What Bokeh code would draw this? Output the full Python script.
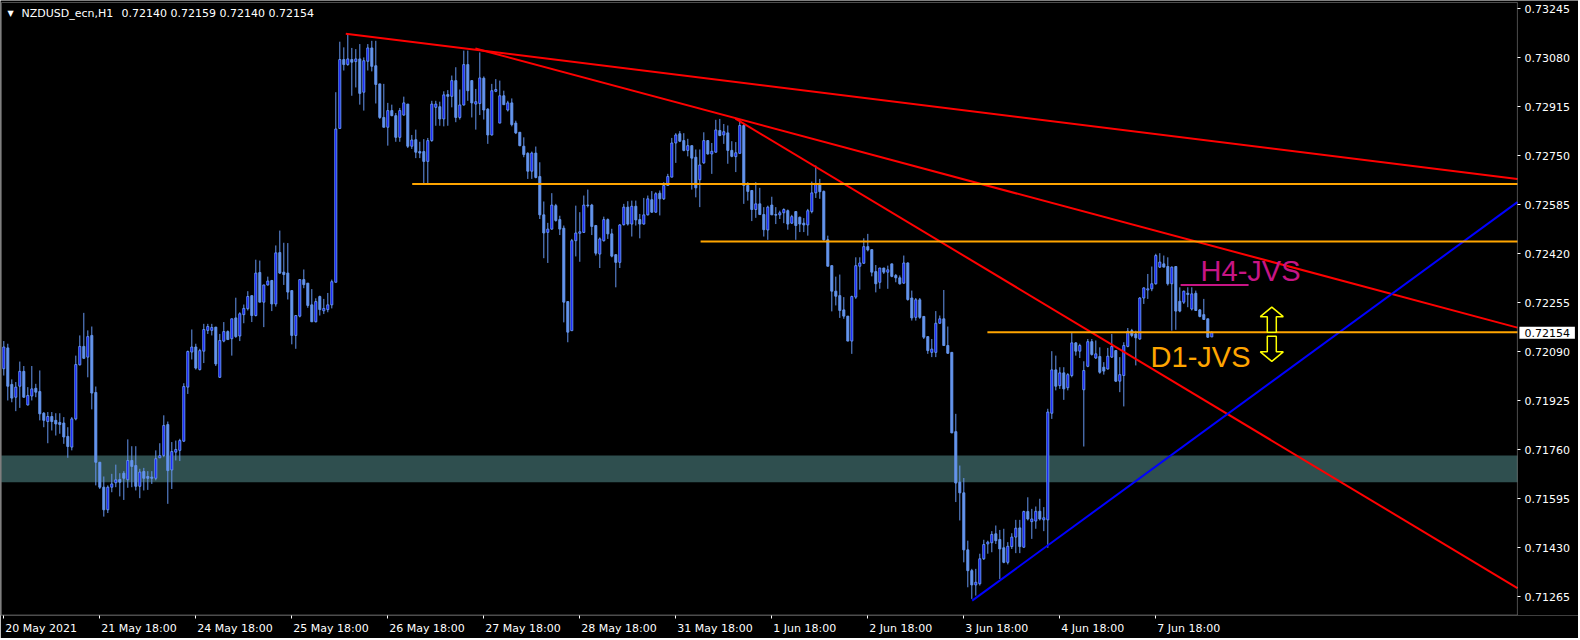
import numpy as np
from bokeh.plotting import figure
from bokeh.models import (Range1d, FixedTicker, PrintfTickFormatter, BoxAnnotation, Label,
                          LinearAxis)
from bokeh.core.properties import value
from bokeh.embed import file_html
from bokeh.resources import INLINE

# ---------------- DATA (NZDUSD H1) ----------------
opens = [
0.72033, 0.72103, 0.71980, 0.71937, 0.71974, 0.72024, 0.71911, 0.71941, 0.71967, 0.71956,
0.71883, 0.71855, 0.71872, 0.71859, 0.71852, 0.71850, 0.71805, 0.71769, 0.71864, 0.72046,
0.72108, 0.72072, 0.72145, 0.71953, 0.71718, 0.71634, 0.71558, 0.71634, 0.71649, 0.71660,
0.71681, 0.71659, 0.71724, 0.71707, 0.71637, 0.71687, 0.71670, 0.71668, 0.71664, 0.71733,
0.71741, 0.71845, 0.71692, 0.71752, 0.71758, 0.71789, 0.71971, 0.72089, 0.72106, 0.72030,
0.72092, 0.72162, 0.72162, 0.72173, 0.72004, 0.72126, 0.72158, 0.72134, 0.72204, 0.72143,
0.72215, 0.72235, 0.72279, 0.72212, 0.72357, 0.72257, 0.72315, 0.72330, 0.72251, 0.72424,
0.72358, 0.72355, 0.72296, 0.72145, 0.72210, 0.72333, 0.72321, 0.72248, 0.72191, 0.72276,
0.72228, 0.72232, 0.72248, 0.72324, 0.72842, 0.73074, 0.73057, 0.73074, 0.73067, 0.73076,
0.72964, 0.73068, 0.73113, 0.73053, 0.72992, 0.72879, 0.72846, 0.72902, 0.72885, 0.72812,
0.72887, 0.72924, 0.72782, 0.72804, 0.72764, 0.72764, 0.72731, 0.72801, 0.72913, 0.72915,
0.72874, 0.72956, 0.72950, 0.73003, 0.72879, 0.72921, 0.73057, 0.73003, 0.72924, 0.72926,
0.73011, 0.72907, 0.72820, 0.72967, 0.72860, 0.72952, 0.72904, 0.72928, 0.72860, 0.72829,
0.72782, 0.72758, 0.72698, 0.72759, 0.72680, 0.72551, 0.72492, 0.72503, 0.72582, 0.72535,
0.72506, 0.72259, 0.72161, 0.72464, 0.72489, 0.72492, 0.72584, 0.72584, 0.72515, 0.72419,
0.72464, 0.72535, 0.72487, 0.72417, 0.72391, 0.72518, 0.72577, 0.72520, 0.72580, 0.72535,
0.72520, 0.72551, 0.72602, 0.72560, 0.72624, 0.72605, 0.72650, 0.72678, 0.72793, 0.72824,
0.72801, 0.72768, 0.72784, 0.72745, 0.72669, 0.72726, 0.72801, 0.72756, 0.72762, 0.72835,
0.72820, 0.72827, 0.72768, 0.72747, 0.72758, 0.72852, 0.72650, 0.72633, 0.72569, 0.72588,
0.72552, 0.72500, 0.72584, 0.72552, 0.72551, 0.72558, 0.72565, 0.72523, 0.72562, 0.72543,
0.72523, 0.72517, 0.72562, 0.72625, 0.72653, 0.72630, 0.72467, 0.72380, 0.72294, 0.72279,
0.72231, 0.72210, 0.72126, 0.72274, 0.72378, 0.72388, 0.72444, 0.72434, 0.72360, 0.72324,
0.72372, 0.72358, 0.72386, 0.72347, 0.72339, 0.72321, 0.72389, 0.72271, 0.72206, 0.72265,
0.72209, 0.72141, 0.72088, 0.72088, 0.72186, 0.72201, 0.72111, 0.72088, 0.71821, 0.71651,
0.71615, 0.71423, 0.71353, 0.71305, 0.71309, 0.71393, 0.71443, 0.71447, 0.71477, 0.71458,
0.71430, 0.71381, 0.71434, 0.71466, 0.71497, 0.71432, 0.71552, 0.71518, 0.71520, 0.71553,
0.71524, 0.71524, 0.71883, 0.72029, 0.71976, 0.72019, 0.71969, 0.72010, 0.72120, 0.72092,
0.71962, 0.72041, 0.72124, 0.72069, 0.72074, 0.72038, 0.72032, 0.72072, 0.72094, 0.71991,
0.72010, 0.72108, 0.72161, 0.72150, 0.72133, 0.72271, 0.72298, 0.72302, 0.72319, 0.72375,
0.72386, 0.72377, 0.72319, 0.72377, 0.72260, 0.72257, 0.72287, 0.72234, 0.72287, 0.72231,
0.72215, 0.72201, 0.72140]

highs = [
0.72126, 0.72117, 0.71997, 0.71988, 0.72057, 0.72042, 0.71971, 0.72042, 0.71982, 0.72027,
0.71887, 0.71887, 0.71887, 0.71883, 0.71883, 0.71870, 0.71836, 0.71870, 0.72077, 0.72145,
0.72221, 0.72162, 0.72175, 0.71973, 0.71718, 0.71670, 0.71640, 0.71679, 0.71710, 0.71681,
0.71688, 0.71795, 0.71772, 0.71772, 0.71696, 0.71699, 0.71688, 0.71688, 0.71758, 0.71782,
0.71876, 0.71855, 0.71786, 0.71791, 0.71797, 0.71984, 0.72094, 0.72165, 0.72117, 0.72100,
0.72184, 0.72184, 0.72184, 0.72173, 0.72150, 0.72190, 0.72162, 0.72201, 0.72272, 0.72223,
0.72249, 0.72294, 0.72279, 0.72400, 0.72397, 0.72315, 0.72343, 0.72332, 0.72448, 0.72498,
0.72457, 0.72456, 0.72296, 0.72212, 0.72333, 0.72367, 0.72321, 0.72301, 0.72270, 0.72279,
0.72268, 0.72288, 0.72333, 0.72964, 0.73134, 0.73115, 0.73160, 0.73113, 0.73109, 0.73126,
0.73081, 0.73126, 0.73137, 0.73137, 0.72992, 0.72992, 0.72928, 0.72922, 0.72894, 0.72911,
0.72949, 0.72924, 0.72820, 0.72838, 0.72797, 0.72806, 0.72810, 0.72935, 0.72935, 0.72932,
0.72967, 0.72971, 0.73020, 0.73048, 0.72973, 0.73104, 0.73104, 0.73003, 0.72975, 0.73098,
0.73017, 0.72910, 0.72992, 0.73008, 0.73003, 0.72969, 0.72935, 0.72943, 0.72868, 0.72829,
0.72812, 0.72762, 0.72764, 0.72781, 0.72728, 0.72596, 0.72524, 0.72624, 0.72588, 0.72548,
0.72515, 0.72259, 0.72470, 0.72582, 0.72560, 0.72616, 0.72636, 0.72588, 0.72517, 0.72475,
0.72545, 0.72539, 0.72504, 0.72417, 0.72520, 0.72588, 0.72597, 0.72599, 0.72599, 0.72554,
0.72608, 0.72616, 0.72631, 0.72627, 0.72633, 0.72661, 0.72689, 0.72810, 0.72826, 0.72833,
0.72826, 0.72807, 0.72784, 0.72771, 0.72771, 0.72829, 0.72803, 0.72793, 0.72871, 0.72874,
0.72857, 0.72852, 0.72799, 0.72796, 0.72872, 0.72857, 0.72661, 0.72633, 0.72661, 0.72642,
0.72577, 0.72582, 0.72612, 0.72577, 0.72565, 0.72573, 0.72569, 0.72551, 0.72563, 0.72545,
0.72540, 0.72571, 0.72663, 0.72717, 0.72672, 0.72633, 0.72481, 0.72380, 0.72343, 0.72350,
0.72274, 0.72210, 0.72279, 0.72408, 0.72408, 0.72472, 0.72487, 0.72434, 0.72382, 0.72372,
0.72372, 0.72380, 0.72386, 0.72352, 0.72347, 0.72414, 0.72391, 0.72296, 0.72271, 0.72271,
0.72209, 0.72141, 0.72133, 0.72227, 0.72212, 0.72298, 0.72175, 0.72088, 0.71881, 0.71707,
0.71665, 0.71454, 0.71359, 0.71359, 0.71410, 0.71457, 0.71454, 0.71486, 0.71505, 0.71490,
0.71494, 0.71449, 0.71479, 0.71524, 0.71524, 0.71555, 0.71600, 0.71561, 0.71569, 0.71595,
0.71567, 0.71898, 0.72092, 0.72077, 0.72038, 0.72038, 0.72018, 0.72153, 0.72122, 0.72117,
0.72058, 0.72133, 0.72133, 0.72128, 0.72105, 0.72055, 0.72103, 0.72150, 0.72096, 0.72072,
0.72122, 0.72170, 0.72167, 0.72161, 0.72274, 0.72307, 0.72352, 0.72377, 0.72420, 0.72422,
0.72414, 0.72408, 0.72377, 0.72377, 0.72307, 0.72296, 0.72307, 0.72307, 0.72296, 0.72234,
0.72268, 0.72201, 0.72159]

lows = [
0.72010, 0.71926, 0.71920, 0.71890, 0.71901, 0.71935, 0.71909, 0.71926, 0.71937, 0.71859,
0.71836, 0.71782, 0.71825, 0.71808, 0.71814, 0.71780, 0.71733, 0.71758, 0.71859, 0.72044,
0.72066, 0.72004, 0.71896, 0.71640, 0.71628, 0.71535, 0.71547, 0.71617, 0.71634, 0.71603,
0.71591, 0.71632, 0.71634, 0.71623, 0.71597, 0.71623, 0.71625, 0.71645, 0.71657, 0.71733,
0.71735, 0.71578, 0.71628, 0.71724, 0.71722, 0.71786, 0.71948, 0.72064, 0.72030, 0.72027,
0.72052, 0.72150, 0.72145, 0.72042, 0.72002, 0.72122, 0.72131, 0.72077, 0.72137, 0.72126,
0.72186, 0.72229, 0.72190, 0.72209, 0.72257, 0.72173, 0.72313, 0.72227, 0.72242, 0.72352,
0.72315, 0.72266, 0.72115, 0.72100, 0.72206, 0.72304, 0.72238, 0.72191, 0.72189, 0.72212,
0.72217, 0.72223, 0.72236, 0.72324, 0.72842, 0.73037, 0.73053, 0.72952, 0.72980, 0.72922,
0.72902, 0.73037, 0.73034, 0.72926, 0.72874, 0.72846, 0.72784, 0.72883, 0.72797, 0.72797,
0.72885, 0.72776, 0.72773, 0.72742, 0.72742, 0.72658, 0.72658, 0.72797, 0.72851, 0.72851,
0.72849, 0.72851, 0.72913, 0.72863, 0.72872, 0.72919, 0.72935, 0.72879, 0.72838, 0.72887,
0.72872, 0.72790, 0.72818, 0.72964, 0.72860, 0.72922, 0.72899, 0.72849, 0.72823, 0.72782,
0.72745, 0.72672, 0.72672, 0.72674, 0.72537, 0.72405, 0.72389, 0.72501, 0.72528, 0.72483,
0.72189, 0.72122, 0.72161, 0.72411, 0.72393, 0.72490, 0.72576, 0.72483, 0.72414, 0.72372,
0.72461, 0.72470, 0.72408, 0.72307, 0.72372, 0.72515, 0.72515, 0.72478, 0.72515, 0.72472,
0.72518, 0.72549, 0.72558, 0.72558, 0.72549, 0.72601, 0.72650, 0.72678, 0.72726, 0.72796,
0.72765, 0.72748, 0.72636, 0.72610, 0.72577, 0.72723, 0.72754, 0.72689, 0.72760, 0.72816,
0.72790, 0.72723, 0.72745, 0.72695, 0.72758, 0.72588, 0.72599, 0.72530, 0.72541, 0.72552,
0.72478, 0.72467, 0.72551, 0.72520, 0.72537, 0.72523, 0.72501, 0.72520, 0.72467, 0.72493,
0.72493, 0.72481, 0.72556, 0.72608, 0.72605, 0.72464, 0.72378, 0.72226, 0.72246, 0.72204,
0.72201, 0.72126, 0.72083, 0.72268, 0.72299, 0.72386, 0.72428, 0.72344, 0.72290, 0.72302,
0.72352, 0.72302, 0.72341, 0.72324, 0.72316, 0.72319, 0.72262, 0.72195, 0.72195, 0.72201,
0.72133, 0.72083, 0.72072, 0.72072, 0.72184, 0.72111, 0.72083, 0.71816, 0.71584, 0.71522,
0.71381, 0.71297, 0.71258, 0.71269, 0.71303, 0.71389, 0.71410, 0.71415, 0.71443, 0.71325,
0.71378, 0.71374, 0.71426, 0.71412, 0.71412, 0.71430, 0.71522, 0.71460, 0.71494, 0.71522,
0.71486, 0.71430, 0.71864, 0.71960, 0.71965, 0.71928, 0.71960, 0.72004, 0.72077, 0.72069,
0.71771, 0.72038, 0.72077, 0.72066, 0.72016, 0.72013, 0.72030, 0.72069, 0.71988, 0.71954,
0.71906, 0.72105, 0.72139, 0.72044, 0.72130, 0.72251, 0.72268, 0.72294, 0.72316, 0.72372,
0.72375, 0.72313, 0.72161, 0.72164, 0.72223, 0.72251, 0.72240, 0.72229, 0.72229, 0.72206,
0.72197, 0.72137, 0.72140]

closes = [
0.72106, 0.71974, 0.71934, 0.71971, 0.72024, 0.71937, 0.71943, 0.71965, 0.71954, 0.71881,
0.71859, 0.71872, 0.71855, 0.71847, 0.71845, 0.71803, 0.71771, 0.71864, 0.72047, 0.72108,
0.72068, 0.72141, 0.71951, 0.71718, 0.71634, 0.71558, 0.71634, 0.71645, 0.71659, 0.71651,
0.71664, 0.71724, 0.71704, 0.71637, 0.71685, 0.71664, 0.71664, 0.71664, 0.71730, 0.71740,
0.71842, 0.71690, 0.71754, 0.71761, 0.71791, 0.71973, 0.72091, 0.72106, 0.72035, 0.72094,
0.72165, 0.72175, 0.72172, 0.72049, 0.72128, 0.72158, 0.72131, 0.72201, 0.72141, 0.72218,
0.72236, 0.72276, 0.72212, 0.72355, 0.72257, 0.72315, 0.72328, 0.72251, 0.72423, 0.72355,
0.72350, 0.72291, 0.72145, 0.72212, 0.72333, 0.72316, 0.72246, 0.72191, 0.72259, 0.72232,
0.72236, 0.72248, 0.72326, 0.72840, 0.73074, 0.73057, 0.73076, 0.73065, 0.73076, 0.72960,
0.73070, 0.73113, 0.73051, 0.72990, 0.72879, 0.72846, 0.72902, 0.72885, 0.72812, 0.72902,
0.72928, 0.72782, 0.72803, 0.72762, 0.72759, 0.72731, 0.72801, 0.72924, 0.72924, 0.72874,
0.72955, 0.72950, 0.73003, 0.72879, 0.72921, 0.73057, 0.72969, 0.72928, 0.72932, 0.73012,
0.72904, 0.72820, 0.72969, 0.72973, 0.72952, 0.72922, 0.72928, 0.72855, 0.72827, 0.72784,
0.72754, 0.72698, 0.72759, 0.72677, 0.72551, 0.72490, 0.72503, 0.72584, 0.72532, 0.72503,
0.72257, 0.72156, 0.72464, 0.72490, 0.72494, 0.72584, 0.72582, 0.72512, 0.72422, 0.72470,
0.72535, 0.72487, 0.72412, 0.72391, 0.72517, 0.72577, 0.72520, 0.72580, 0.72534, 0.72520,
0.72551, 0.72605, 0.72560, 0.72622, 0.72605, 0.72650, 0.72680, 0.72793, 0.72820, 0.72799,
0.72768, 0.72784, 0.72742, 0.72642, 0.72719, 0.72801, 0.72756, 0.72765, 0.72837, 0.72818,
0.72831, 0.72768, 0.72748, 0.72760, 0.72852, 0.72650, 0.72630, 0.72569, 0.72588, 0.72552,
0.72501, 0.72577, 0.72551, 0.72550, 0.72558, 0.72569, 0.72520, 0.72545, 0.72515, 0.72520,
0.72517, 0.72565, 0.72625, 0.72653, 0.72629, 0.72467, 0.72378, 0.72294, 0.72277, 0.72229,
0.72210, 0.72126, 0.72276, 0.72380, 0.72389, 0.72444, 0.72433, 0.72358, 0.72319, 0.72372,
0.72358, 0.72366, 0.72344, 0.72339, 0.72319, 0.72389, 0.72266, 0.72204, 0.72265, 0.72206,
0.72139, 0.72094, 0.72099, 0.72186, 0.72201, 0.72111, 0.72085, 0.71817, 0.71648, 0.71615,
0.71423, 0.71353, 0.71305, 0.71314, 0.71393, 0.71441, 0.71449, 0.71475, 0.71454, 0.71426,
0.71381, 0.71435, 0.71466, 0.71496, 0.71434, 0.71552, 0.71527, 0.71527, 0.71553, 0.71527,
0.71531, 0.71887, 0.72029, 0.71974, 0.72019, 0.71965, 0.72013, 0.72120, 0.72092, 0.72111,
0.72027, 0.72124, 0.72081, 0.72083, 0.72021, 0.72025, 0.72075, 0.72108, 0.71991, 0.72013,
0.72111, 0.72159, 0.72145, 0.72137, 0.72271, 0.72305, 0.72302, 0.72319, 0.72414, 0.72392,
0.72375, 0.72319, 0.72375, 0.72227, 0.72227, 0.72294, 0.72283, 0.72285, 0.72229, 0.72209,
0.72199, 0.72139, 0.72154]

time_tick_bars = [0, 24, 48, 72, 96, 120, 144, 168, 192, 216, 240, 264, 288]
time_tick_labels = ["20 May 2021", "21 May 18:00", "24 May 18:00", "25 May 18:00", "26 May 18:00",
                    "27 May 18:00", "28 May 18:00", "31 May 18:00", "1 Jun 18:00", "2 Jun 18:00",
                    "3 Jun 18:00", "4 Jun 18:00", "7 Jun 18:00"]
price_ticks = [0.71265, 0.71430, 0.71595, 0.71760, 0.71925, 0.72090, 0.72255,
               0.72420, 0.72585, 0.72750, 0.72915, 0.73080, 0.73245]

symbol_text = "NZDUSD_ecn,H1"
last_bar_text = "0.72140 0.72159 0.72140 0.72154"
last_price = 0.72154

# support zone (price band)
zone_low, zone_high = 0.71651, 0.71741
# trend lines: (bar1, price1, bar2, price2) - rays extending to the right edge
red_rays = [(85.5, 0.73161, 378.2, 0.72672),
            (117.9, 0.73111, 378.2, 0.72172),
            (182.9, 0.72875, 378.2, 0.71296)]
blue_rays = [(242.1, 0.71252, 378.2, 0.72592)]
# horizontal levels: (start bar, price)
orange_levels = [(102.1, 0.72655), (174.2, 0.72461), (245.9, 0.72156)]
h4_segment = (294.2, 311.2, 0.72315)
h4_text_anchor = (299.2, 0.72363)
d1_text_anchor = (286.7, 0.72071)
arrow_up_anchor = (317.0, 0.72198)
arrow_down_anchor = (317.0, 0.72100)

# ---------------- GEOMETRY ----------------
X_LEFT, X_RIGHT = -0.575, 378.4        # chart window in bars
Y_BOT, Y_TOP = 0.71202, 0.73266        # chart window in price
PX_PER_BAR = 4.0
CHART_H = 613
PX_PER_PRICE = CHART_H / (Y_TOP - Y_BOT)
FRAME_W, FRAME_H = 1578, 615
XR0 = X_LEFT - 1.0 / PX_PER_BAR
XR1 = XR0 + FRAME_W / PX_PER_BAR
YR1 = Y_TOP + 2.0 / PX_PER_PRICE
YR0 = Y_BOT

CORN = "#6495ED"
WHITE = "#FFFFFF"
FONT = "DejaVu Sans"

n = min(len(opens), len(highs), len(lows), len(closes))
o = np.array(opens[:n]); c = np.array(closes[:n])
h = np.maximum(np.array(highs[:n]), np.maximum(o, c))
l = np.minimum(np.array(lows[:n]), np.minimum(o, c))
idx = np.arange(n)
bull = c >= o

p = figure(frame_width=FRAME_W, frame_height=FRAME_H,
           x_range=Range1d(XR0, XR1), y_range=Range1d(YR0, YR1),
           output_backend="svg", toolbar_location=None, y_axis_location="right",
           background_fill_color="black", border_fill_color="black",
           min_border_left=0, min_border_top=0, min_border_right=0, min_border_bottom=23)
p.grid.visible = False
p.outline_line_color = None

# ---- price axis, drawn at the chart's right border
ya = p.yaxis[0]
ya.fixed_location = X_RIGHT
ya.ticker = FixedTicker(ticks=price_ticks)
ya.formatter = PrintfTickFormatter(format="%.5f")
ya.axis_line_color = None
ya.major_tick_line_color = WHITE
ya.minor_tick_line_color = None
ya.major_tick_in = 0
ya.major_tick_out = 3
ya.major_label_standoff = 4
ya.major_label_text_color = WHITE
ya.major_label_text_font = FONT
ya.major_label_text_font_size = "11px"

# ---- time axis: tick marks at the bars
xa = p.xaxis[0]
xa.ticker = FixedTicker(ticks=time_tick_bars)
xa.major_label_overrides = {b: "" for b in time_tick_bars}
xa.major_label_text_font_size = "0px"
xa.major_label_standoff = 0
xa.axis_line_color = None
xa.major_tick_line_color = WHITE
xa.minor_tick_line_color = None
xa.major_tick_in = 0
xa.major_tick_out = 3

# ---- time labels, left-aligned at their tick (second axis holding the texts)
CW = {" ": 0.318, ":": 0.337, "M": 0.863, "a": 0.613, "y": 0.592, "J": 0.295, "u": 0.634, "n": 0.634}
def label_center(bar, text, size=11.0):
    w = sum(CW.get(ch, 0.636) for ch in text) * size
    return round(bar + (w / 2.0 + 1.5) / PX_PER_BAR, 3)

centers = [label_center(b, t) for b, t in zip(time_tick_bars, time_tick_labels)]
xa2 = LinearAxis(ticker=FixedTicker(ticks=centers),
                 major_label_overrides={cx: t for cx, t in zip(centers, time_tick_labels)},
                 axis_line_color=None, major_tick_line_color=None, minor_tick_line_color=None,
                 major_tick_in=0, major_tick_out=0, major_label_standoff=3,
                 major_label_text_color=WHITE, major_label_text_font=FONT,
                 major_label_text_font_size="11px")
p.add_layout(xa2, "below")

# support zone
p.add_layout(BoxAnnotation(left=X_LEFT, right=X_RIGHT, bottom=zone_low, top=zone_high,
                           fill_color="#2F4F4F", fill_alpha=1.0, line_color=None, level="underlay"))

# candles
p.segment(x0=idx, y0=l, x1=idx, y1=h, line_color=CORN, line_width=1)
p.vbar(x=idx[~bull], width=0.5, top=o[~bull], bottom=c[~bull],
       fill_color=CORN, line_color=CORN, line_width=1)
p.vbar(x=idx[bull], width=0.5, top=c[bull], bottom=o[bull],
       fill_color="#0000FF", line_color=CORN, line_width=1)

# trend rays, cut at the chart's right border
def ray_segments(rays, x_end=X_RIGHT):
    xs0, ys0, xs1, ys1 = [], [], [], []
    for b1, p1, b2, p2 in rays:
        slope = (p2 - p1) / (b2 - b1)
        xs0.append(b1); ys0.append(p1)
        xs1.append(x_end); ys1.append(p1 + slope * (x_end - b1))
    return xs0, ys0, xs1, ys1

for rays, col in ((red_rays, "#FF0000"), (blue_rays, "#0000FF")):
    a, b, cc, d = ray_segments(rays)
    p.segment(x0=a, y0=b, x1=cc, y1=d, line_color=col, line_width=2)

# horizontal levels
p.segment(x0=[s for s, _ in orange_levels], y0=[v for _, v in orange_levels],
          x1=[X_RIGHT] * len(orange_levels), y1=[v for _, v in orange_levels],
          line_color="#FFA500", line_width=2)
p.segment(x0=[h4_segment[0]], y0=[h4_segment[2]], x1=[h4_segment[1]], y1=[h4_segment[2]],
          line_color="#C71585", line_width=2)

# annotation texts
p.text(x=[h4_text_anchor[0]], y=[h4_text_anchor[1]], text=["H4-JVS"],
       text_font=value("Liberation Sans"), text_font_size="29px", text_color="#C71585",
       text_align="left", text_baseline="middle")
p.text(x=[d1_text_anchor[0]], y=[d1_text_anchor[1]], text=["D1-JVS"],
       text_font=value("Liberation Sans"), text_font_size="29px", text_color="#FFA500",
       text_align="left", text_baseline="middle")

# hollow up / down arrows (shape in pixels, placed at their anchors)
UP_SHAPE = [(0, 12.5), (11.5, 3), (4.5, 3), (4.5, -12.5), (-4.5, -12.5), (-4.5, 3), (-11.5, 3)]
def arrow_patch(anchor, flip):
    ax_, ay_ = anchor
    xs = [ax_ + dx / PX_PER_BAR for dx, dy in UP_SHAPE]
    ys = [ay_ + (-dy if flip else dy) / PX_PER_PRICE for dx, dy in UP_SHAPE]
    return xs, ys
ux, uy = arrow_patch(arrow_up_anchor, False)
dx_, dy_ = arrow_patch(arrow_down_anchor, True)
p.patches(xs=[ux, dx_], ys=[uy, dy_], fill_color="black", line_color="#FFFF00", line_width=1.5)

# chart border
p.add_layout(BoxAnnotation(left=X_LEFT, right=X_RIGHT, bottom=Y_BOT + 0.5 / PX_PER_PRICE,
                           top=Y_TOP, fill_alpha=0, line_color=WHITE, line_width=1))

# header
p.add_layout(Label(x=X_LEFT, y=Y_TOP, x_offset=6, y_offset=-11, text="\u25bc", text_color=WHITE,
                   text_font=FONT, text_font_size="8px", text_baseline="middle"))
p.add_layout(Label(x=X_LEFT, y=Y_TOP, x_offset=20, y_offset=-11, text=symbol_text, text_color=WHITE,
                   text_font=FONT, text_font_size="11px", text_baseline="middle"))
p.add_layout(Label(x=X_LEFT, y=Y_TOP, x_offset=120, y_offset=-11, text=last_bar_text,
                   text_color=WHITE, text_font=FONT, text_font_size="11px", text_baseline="middle"))

# current price tag on the price scale
p.add_layout(Label(x=X_RIGHT, y=last_price, x_offset=2, text=f"{last_price:.5f}", text_color="black",
                   text_font=FONT, text_font_size="11px", text_baseline="middle",
                   background_fill_color=WHITE, padding=(5, 2)))

open("out.html", "w").write(file_html(p, INLINE))
